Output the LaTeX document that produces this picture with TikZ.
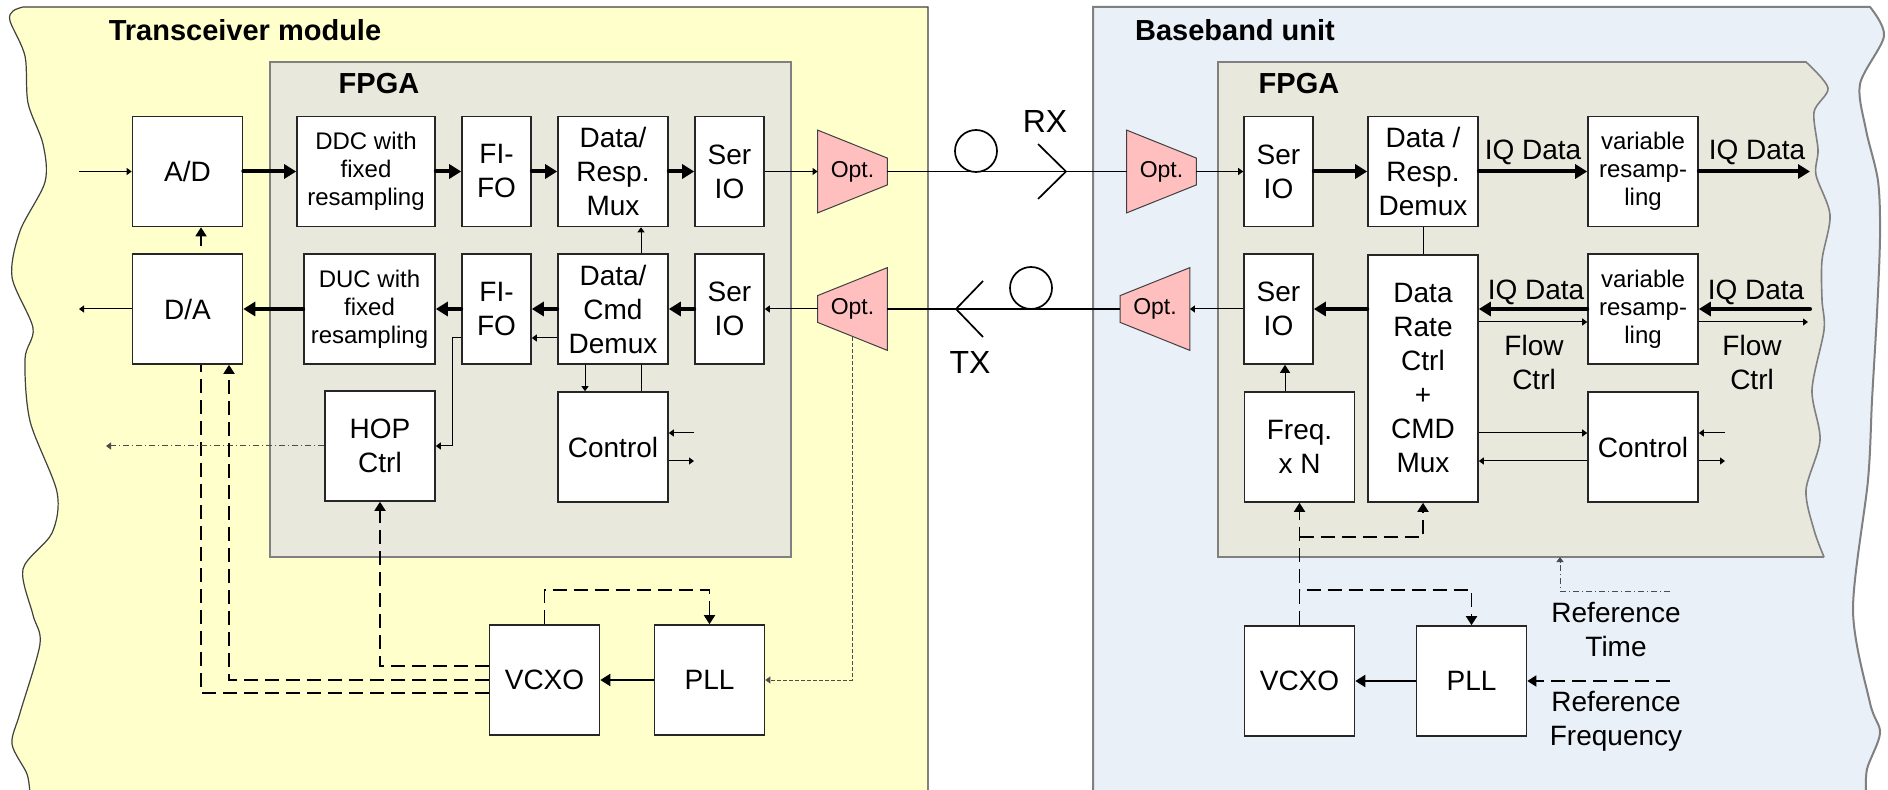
\documentclass[tikz,border=0pt]{standalone}
\usepackage{fontspec}
\setmainfont{Liberation Sans}
\usetikzlibrary{arrows.meta}
\definecolor{modyellow}{RGB}{255,255,204}
\definecolor{bbblue}{RGB}{234,240,248}
\definecolor{fpgagray}{RGB}{232,232,221}
\definecolor{optpink}{RGB}{255,191,191}
\pgfdeclarelayer{back}
\pgfdeclarelayer{mid}
\pgfsetlayers{back,mid,main}

\begin{document}
\begin{tikzpicture}[x=0.5pt,y=-0.5pt,
	box node/.style={draw=black!85,fill=white,line width=0.8pt,inner sep=0pt,align=center,minimum width=55pt,minimum height=55pt,font=\fontsize{14}{17}\selectfont},
	narrow node/.style={box node,minimum width=34.5pt},
	small text/.style={font=\fontsize{12}{14}\selectfont},
	opt node/.style={inner sep=0pt,minimum width=34.5pt,minimum height=41pt,font=\fontsize{11.5}{13}\selectfont},
	opt shape/.style={fill=optpink,draw=black!75,line width=0.5pt},
	label node/.style={align=center,inner sep=0pt,font=\fontsize{14}{17}\selectfont},
	title node/.style={inner sep=0pt,font=\fontsize{14.5}{17}\selectfont\bfseries},
	bus/.style={line width=2pt,line cap=round,-{Triangle[length=6pt,width=7pt]}},
	sig/.style={line width=0.5pt,-{Triangle[length=2.5pt,width=3.5pt]}},
	wire/.style={line width=0.5pt},
	fiber/.style={line width=0.85pt},
	ctl/.style={line width=1pt,-{Triangle[length=5pt,width=6pt]}},
	clk/.style={line width=0.9pt,dash pattern=on 7pt off 3.5pt,-{Triangle[length=4.5pt,width=5.5pt]}},
	fine/.style={line width=0.5pt,black!70,dash pattern=on 2pt off 1pt,-{Triangle[length=2.5pt,width=3.5pt]}},
	dashdot/.style={line width=0.5pt,black!70,dash pattern=on 3pt off 1.5pt on 0.5pt off 1.5pt,-{Triangle[length=2.5pt,width=3.5pt]}}]

\useasboundingbox (0,0) rectangle (1888,790);

% regions
\begin{pgfonlayer}{back}
	\path[fill=modyellow,draw=black!75,line width=0.6pt] (928,795) -- (928,7) -- plot[smooth] coordinates {(23,7) (13,11) (10,21) (25,56) (28,103) (43,144) (45,182) (20,231) (12,277) (33,328) (25,359) (30,421) (57,492) (52,533) (23,569) (33,615) (40,644) (20,713) (12,744) (27,774) (30,795)};
	\path[fill=bbblue,draw=gray,line width=1pt] (1093,795) -- (1093,7) -- plot[smooth] coordinates {(1870,7) (1884,36) (1860,84) (1866,130) (1878,181) (1880,236) (1877,313) (1872,400) (1868,480) (1853,610) (1870,703) (1880,733) (1867,769) (1866,795)};
	\path[fill=fpgagray,draw=gray,line width=0.8pt] (270,62) rectangle (791,557);
	\path[fill=fpgagray,draw=gray,line width=0.8pt] (1824,557) -- (1218,557) -- (1218,62) -- plot[smooth] coordinates {(1806,62) (1828,88) (1814,112) (1818,150) (1816,175) (1830,215) (1822,260) (1822,300) (1824,330) (1812,390) (1820,440) (1806,490) (1814,530) (1824,557)};
\end{pgfonlayer}

\node[title node] (tmod) at (245,30) {Transceiver module};
\node[title node] (bbu) at (1235,30) {Baseband unit};
\node[title node] (fpgal) at (379,84) {FPGA};
\node[title node] (fpgar) at (1299,84) {FPGA};

% transceiver blocks
\node[box node] (ad) at (187.5,171.5) {A/D};
\node[box node,minimum width=69pt,small text] (ddc) at (366,171.5) {DDC with\\fixed\\resampling};
\node[narrow node] (fifoa) at (496.5,171.5) {FI-\\FO};
\node[box node] (mux) at (613,171.5) {Data/\\Resp.\\Mux};
\node[narrow node] (seria) at (729.5,171.5) {Ser\\IO};
\node[box node] (da) at (187.5,309) {D/A};
\node[box node,minimum width=65.5pt,small text] (duc) at (369.5,309) {DUC with\\fixed\\resampling};
\node[narrow node] (fifob) at (496.5,309) {FI-\\FO};
\node[box node] (demux) at (613,309) {Data/\\Cmd\\Demux};
\node[narrow node] (serib) at (729.5,309) {Ser\\IO};
\node[box node] (hop) at (380,446) {HOP\\Ctrl};
\node[box node] (ctrl) at (613,447) {Control};
\node[box node] (vcxo) at (544.5,680) {VCXO};
\node[box node] (pll) at (709.5,680) {PLL};

% optical parts
\node[opt node] (opta) at (852.5,171.5) {Opt.};
\node[opt node] (optb) at (852.5,309) {Opt.};
\node[opt node] (optc) at (1161.5,171.5) {Opt.};
\node[opt node] (optd) at (1155,309) {Opt.};
\begin{pgfonlayer}{mid}
	\draw[opt shape] (opta.north west) -- ([yshift=-14pt]opta.north east) -- ([yshift=14pt]opta.south east) -- (opta.south west) -- cycle;
	\draw[opt shape] (optb.north east) -- (optb.south east) -- ([yshift=14pt]optb.south west) -- ([yshift=-14pt]optb.north west) -- cycle;
	\draw[opt shape] (optc.north west) -- ([yshift=-14pt]optc.north east) -- ([yshift=14pt]optc.south east) -- (optc.south west) -- cycle;
	\draw[opt shape] (optd.north east) -- (optd.south east) -- ([yshift=14pt]optd.south west) -- ([yshift=-14pt]optd.north west) -- cycle;
\end{pgfonlayer}

% baseband blocks
\node[narrow node] (serc) at (1278.5,171.5) {Ser\\IO};
\node[box node] (rdemux) at (1423,171.5) {Data /\\Resp.\\Demux};
\node[box node,small text] (vra) at (1643,171.5) {variable\\resamp-\\ling};
\node[narrow node] (serd) at (1278.5,309) {Ser\\IO};
\node[box node,minimum height=123.5pt] (rate) at (1423,378.5) {Data\\Rate\\Ctrl\\+\\CMD\\Mux};
\node[box node,small text] (vrb) at (1643,309) {variable\\resamp-\\ling};
\node[box node] (freq) at (1299.5,447) {Freq.\\x N};
\node[box node] (rctrl) at (1643,447) {Control};
\node[box node] (rvcxo) at (1299.5,681) {VCXO};
\node[box node] (rpll) at (1471.5,681) {PLL};

% fiber
\node[draw,circle,minimum size=21pt,inner sep=0pt,line width=0.85pt] (rxloop) at (976,151) {};
\node[draw,circle,minimum size=21pt,inner sep=0pt,line width=0.85pt] (txloop) at (1031,288) {};
\coordinate (rxtip) at (1066,171.5);
\coordinate (txtip) at (956,309);
\draw[fiber] (opta.east) -- (optc.west);
\draw[fiber] (optb.east) -- (optd.west);
\draw[fiber] (1038,144) -- (rxtip) -- (1038,199);
\draw[fiber] (983,281) -- (txtip) -- (983,337);
\node[label node,font=\fontsize{16}{19}\selectfont] (rxl) at (1045,121) {RX};
\node[label node,font=\fontsize{16}{19}\selectfont] (txl) at (970,362) {TX};

% transceiver connections
\coordinate (ina) at (79,171.5);
\coordinate (outa) at (79,309);
\draw[sig] (ina) -- (ad);
\draw[bus] (ad) -- (ddc);
\draw[bus] (ddc) -- (fifoa);
\draw[bus] (fifoa) -- (mux);
\draw[bus] (mux) -- (seria);
\draw[sig] (seria) -- (opta);
\draw[sig] (optb) -- (serib);
\draw[bus] (serib) -- (demux);
\draw[bus] (demux) -- (fifob);
\draw[bus] (fifob) -- (duc);
\draw[bus] (duc) -- (da);
\draw[sig] (da) -- (outa);
\coordinate (dfa) at ([yshift=-14.5pt]demux.west);
\draw[sig] (dfa) -- (dfa -| fifob.east);
\draw[sig] (dfa -| fifob.west) -- ++(-4.5pt,0) |- (hop.east);
\draw[sig] ([xshift=14pt]demux.north) -- ([xshift=14pt]mux.south);
\draw[sig] ([xshift=-14pt]demux.south) -- ([xshift=-14pt]ctrl.north);
\draw[wire] ([xshift=14pt]demux.south) -- ([xshift=14pt]ctrl.north);
\coordinate (cin) at (694,433);
\coordinate (cout) at (694,461);
\draw[sig] (cin) -- (cin -| ctrl.east);
\draw[sig] (cout -| ctrl.east) -- (cout);
\coordinate (hopout) at (106,446);
\draw[dashdot] (hop) -- (hopout);

% transceiver clocking
\draw[clk] ([yshift=7pt]vcxo.west) -| (hop.south);
\draw[clk] (vcxo.west) -| ([xshift=20.75pt]da.south);
\begin{pgfonlayer}{mid}
	\draw[clk] ([yshift=-6.5pt]vcxo.west) -| ([xshift=6.75pt]ad.south);
\end{pgfonlayer}
\draw[clk] (vcxo.north) -- ++(0,17pt) -| (pll.north);
\draw[ctl] (pll) -- (vcxo);
\draw[fine] ([yshift=6.5pt]optb.south) |- (pll.east);

% baseband connections
\coordinate (outc) at (1810,171.5);
\coordinate (ind) at (1810,309);
\draw[sig] (optc) -- (serc);
\draw[bus] (serc) -- (rdemux);
\draw[bus] (rdemux) -- (vra);
\draw[bus] (vra) -- (outc);
\draw[wire] (rdemux) -- (rate);
\draw[bus] (ind) -- (vrb);
\draw[bus] (vrb) -- (rate.east |- vrb.west);
\draw[bus] (rate.west |- serd.east) -- (serd.east);
\draw[sig] (serd) -- (optd);
\node[label node] (iqa) at (1533,152) {IQ Data};
\node[label node] (iqb) at (1757,152) {IQ Data};
\node[label node] (iqc) at (1536,292) {IQ Data};
\node[label node] (iqd) at (1756,292) {IQ Data};
\coordinate (flowa) at ([yshift=-6.5pt]vrb.west);
\coordinate (flowb) at (1808,322);
\draw[sig] (rate.east |- flowa) -- (flowa);
\draw[sig] (vrb.east |- flowb) -- (flowb);
\node[label node] (fla) at (1534,362) {Flow\\Ctrl};
\node[label node] (flb) at (1752,362) {Flow\\Ctrl};
\draw[wire,-{Triangle[length=4pt,width=5pt]}] ([xshift=3.25pt]serd.south |- freq.north) -- ([xshift=3.25pt]serd.south);
\coordinate (rca) at ([yshift=7pt]rctrl.west);
\coordinate (rcb) at ([yshift=-7pt]rctrl.west);
\draw[sig] (rate.east |- rca) -- (rca);
\draw[sig] (rcb) -- (rate.east |- rcb);
\coordinate (rcin) at (1725,433);
\coordinate (rcout) at (1725,461);
\draw[sig] (rcin) -- (rcin -| rctrl.east);
\draw[sig] (rcout -| rctrl.east) -- (rcout);

% baseband clocking
\draw[clk] (rvcxo) -- (freq);
\coordinate (rbranch) at ([yshift=-17pt]freq.south);
\draw[clk] (rbranch) -| (rate.south);
\draw[clk] (rvcxo.north) -- ++(0,17.5pt) -| (rpll.north);
\draw[ctl] (rpll) -- (rvcxo);
\coordinate (reffreq) at (1670,681);
\coordinate (reftime) at (1670,591);
\coordinate (fpgab) at (1560,557);
\draw[clk] (reffreq) -- (rpll);
\draw[dashdot] (reftime) -| (fpgab);
\node[label node] (rtime) at (1616,630) {Reference\\Time};
\node[label node] (rfreq) at (1616,721) {Reference\\Frequency};
\end{tikzpicture}
\end{document}
